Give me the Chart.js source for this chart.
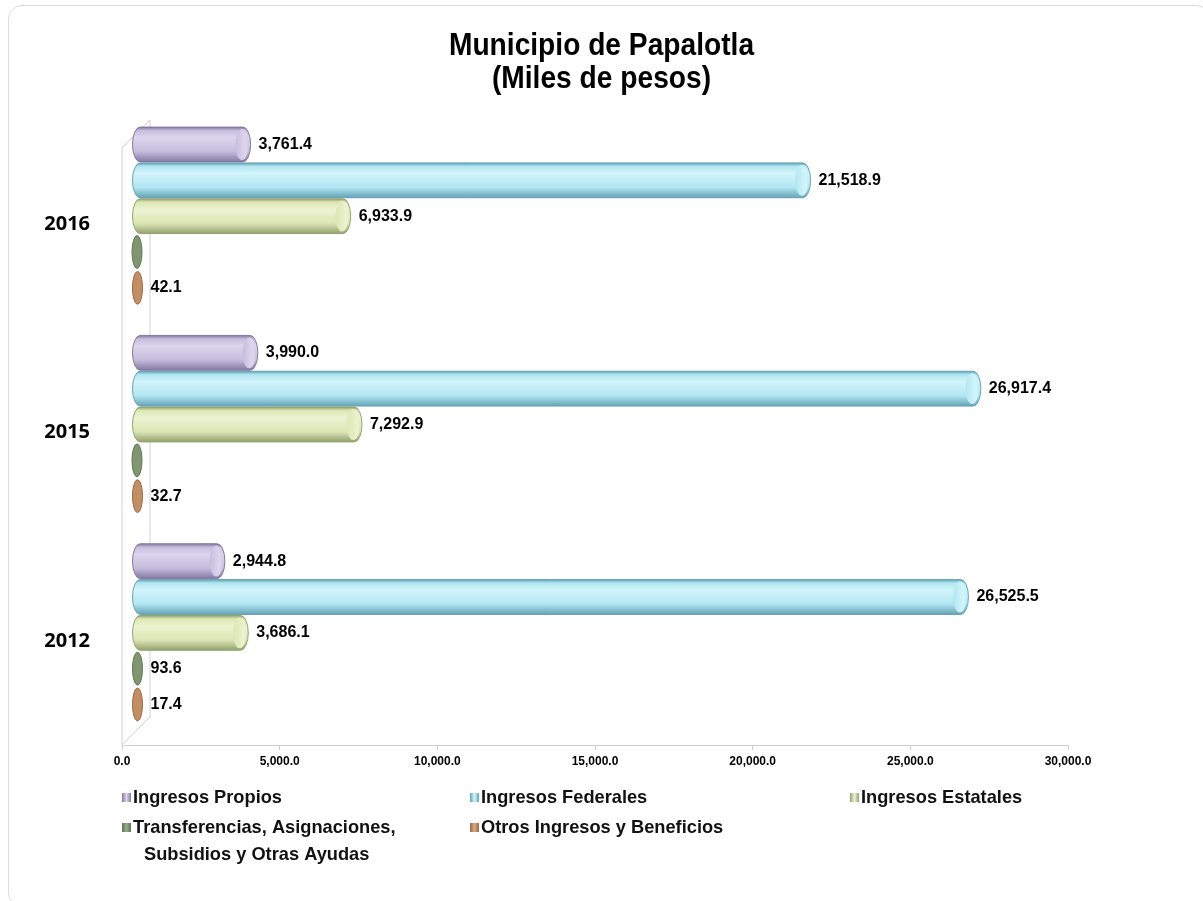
<!DOCTYPE html>
<html>
<head>
<meta charset="utf-8">
<script src="https://cdn.jsdelivr.net/npm/chart.js@4.4.0/dist/chart.umd.min.js"></script>
<style>
  html, body { margin: 0; padding: 0; background: #fff; }
  #wrap { position: relative; width: 1203px; height: 901px; }
  #frame { position: absolute; left: 8px; top: 5px; width: 1200px; height: 900px;
           border: 1px solid #dcdcdc; border-radius: 14px; pointer-events: none; }
</style>
</head>
<body>
<div id="wrap">
  <canvas id="chart" width="1203" height="901"></canvas>
  <div id="frame"></div>
</div>
<script>
// data
const years = ['2016', '2015', '2012'];
const ingresosPropios = [3761.4, 3990.0, 2944.8];
const ingresosFederales = [21518.9, 26917.4, 26525.5];
const ingresosEstatales = [6933.9, 7292.9, 3686.1];
const transferencias = [0, 0, 93.6];
const otrosIngresos = [42.1, 32.7, 17.4];
const xTicks = [0, 5000, 10000, 15000, 20000, 25000, 30000];

const titleLines = ['Municipio de Papalotla', '(Miles de pesos)'];
const seriesNames = [
    ['Ingresos Propios'],
    ['Ingresos Federales'],
    ['Ingresos Estatales'],
    ['Transferencias, Asignaciones,', 'Subsidios y Otras Ayudas'],
    ['Otros Ingresos y Beneficios']
];

// cylinder colours: edge (dark), body (mid), light (highlight), cap
const palette = [
    { dark: '#8478a0', mid: '#c6bcdc', light: '#ddd6ee', cap: '#d9d1ea' },
    { dark: '#65a3b6', mid: '#b2e6f2', light: '#d2f5fb', cap: '#caf1f9' },
    { dark: '#93a270', mid: '#dce7b4', light: '#edf3d2', cap: '#e6edc6' },
    { dark: '#5f7750', mid: '#7f9670', light: '#98ab8a', cap: '#8aa07b' },
    { dark: '#9c6a45', mid: '#c48e64', light: '#d8a882', cap: '#cf9b72' }
];

const fmt = v => v.toLocaleString('en-US', { minimumFractionDigits: 1, maximumFractionDigits: 1 });

// 3D depth offset of the bars (back plane up and right)
const SHIFT_X = 10;
const SHIFT_Y = -8;

// draws a cylinder whose outer edges are left..right
function cylinder(ctx, left, right, yc, h, c) {
    const top = yc - h / 2, bot = yc + h / 2;
    const rx = Math.min(8, h * 0.22);
    ctx.save();
    ctx.lineWidth = 1;
    if (right - left < 2 * rx) {
        ctx.beginPath();
        ctx.ellipse(left + 5, yc, 5, h / 2 - 1, 0, 0, Math.PI * 2);
        ctx.fillStyle = c.mid;
        ctx.fill();
        ctx.strokeStyle = c.dark;
        ctx.stroke();
        ctx.restore();
        return;
    }
    const x0 = left + rx, x1 = right - rx;
    const g = ctx.createLinearGradient(0, top, 0, bot);
    g.addColorStop(0, c.dark);
    g.addColorStop(0.1, c.mid);
    g.addColorStop(0.3, c.light);
    g.addColorStop(0.7, c.mid);
    g.addColorStop(1, c.dark);
    ctx.beginPath();
    ctx.ellipse(x0, yc, rx, h / 2, 0, Math.PI / 2, Math.PI * 1.5);
    ctx.lineTo(x1, top);
    ctx.ellipse(x1, yc, rx, h / 2, 0, -Math.PI / 2, Math.PI / 2);
    ctx.closePath();
    ctx.fillStyle = g;
    ctx.fill();
    ctx.strokeStyle = c.dark;
    ctx.stroke();
    // end cap, soft highlight
    const cg = ctx.createLinearGradient(x1 - rx, 0, x1 + rx, 0);
    cg.addColorStop(0, c.mid);
    cg.addColorStop(0.5, c.cap);
    cg.addColorStop(0.7, c.light);
    cg.addColorStop(1, c.mid);
    ctx.beginPath();
    ctx.ellipse(x1 - 1, yc, rx - 1, h / 2 - 2, 0, 0, Math.PI * 2);
    ctx.fillStyle = cg;
    ctx.fill();
    ctx.restore();
}

const cylinderPlugin = {
    id: 'cylinders',
    beforeDatasetsDraw(chart) {
        // 3D wall lines
        const { ctx, chartArea: a } = chart;
        const d = 28;
        ctx.save();
        ctx.strokeStyle = '#d2d2d2';
        ctx.lineWidth = 1;
        ctx.beginPath();
        ctx.moveTo(a.left, a.bottom);
        ctx.lineTo(a.left, a.top + d);
        ctx.lineTo(a.left + d, a.top);
        ctx.lineTo(a.left + d, a.bottom - d);
        ctx.lineTo(a.left, a.bottom);
        ctx.stroke();
        ctx.restore();
    },
    afterDatasetsDraw(chart) {
        const ctx = chart.ctx;
        chart.data.datasets.forEach((ds, i) => {
            const meta = chart.getDatasetMeta(i);
            meta.data.forEach((bar, j) => {
                const p = bar.getProps(['x', 'y', 'base', 'height'], true);
                const left = p.base + SHIFT_X, right = p.x + SHIFT_X, yc = p.y + SHIFT_Y;
                cylinder(ctx, left, right, yc, p.height - 1, palette[i]);
                const v = ds.data[j];
                if (v > 0) {
                    ctx.save();
                    ctx.font = 'bold 16px "Liberation Sans", Arial, sans-serif';
                    ctx.fillStyle = '#000';
                    ctx.textBaseline = 'middle';
                    ctx.textAlign = 'left';
                    ctx.fillText(fmt(v), Math.max(right, left + 10) + 8, yc);
                    ctx.restore();
                }
            });
        });
    },
    afterDraw(chart) {
        const ctx = chart.ctx;
        // title, centred on the page
        ctx.save();
        ctx.font = 'bold 32px "Liberation Sans", Arial, sans-serif';
        ctx.fillStyle = '#000';
        ctx.textAlign = 'center';
        ctx.textBaseline = 'middle';
        titleLines.forEach((t, k) => {
            ctx.save();
            ctx.translate(chart.width / 2, 46 + k * 33);
            ctx.scale(0.88, 1);
            ctx.fillText(t, 0, 0);
            ctx.restore();
        });
        ctx.restore();

        // legend, 3 columns x 2 rows
        const cols = [122, 470, 850];
        const rows = [798, 828];
        ctx.save();
        ctx.font = 'bold 19px "Liberation Sans", Arial, sans-serif';
        ctx.textBaseline = 'middle';
        seriesNames.forEach((lines, i) => {
            const x = cols[i % 3], y = rows[Math.floor(i / 3)];
            const c = palette[i];
            const g = ctx.createLinearGradient(x, 0, x + 9, 0);
            g.addColorStop(0, c.dark);
            g.addColorStop(0.5, c.light);
            g.addColorStop(1, c.dark);
            ctx.fillStyle = g;
            ctx.fillRect(x, y - 5, 9, 9);
            ctx.fillStyle = '#111';
            lines.forEach((t, k) => {
                ctx.save();
                ctx.translate(k === 0 ? x + 11 : x + 22, y + k * 27);
                ctx.scale(0.96, 1);
                ctx.fillText(t, 0, 0);
                ctx.restore();
            });
        });
        ctx.restore();
    }
};

const mkSet = (label, data) => ({
    label: label,
    data: data,
    backgroundColor: 'rgba(0,0,0,0)',
    borderWidth: 0
});

new Chart(document.getElementById('chart'), {
    type: 'bar',
    data: {
        labels: years,
        datasets: [
            mkSet(seriesNames[0].join(' '), ingresosPropios),
            mkSet(seriesNames[1].join(' '), ingresosFederales),
            mkSet(seriesNames[2].join(' '), ingresosEstatales),
            mkSet(seriesNames[3].join(' '), transferencias),
            mkSet(seriesNames[4].join(' '), otrosIngresos)
        ]
    },
    options: {
        indexAxis: 'y',
        responsive: false,
        animation: false,
        layout: { padding: { top: 120, right: 135, bottom: 126, left: 0 } },
        datasets: { bar: { barPercentage: 1, categoryPercentage: 0.86 } },
        plugins: {
            legend: { display: false },
            tooltip: { enabled: false },
            title: { display: false }
        },
        scales: {
            x: {
                min: 0,
                max: 30000,
                afterBuildTicks(scale) { scale.ticks = xTicks.map(v => ({ value: v })); },
                afterFit(scale) { scale.height = 30; },
                border: { color: '#cfcfcf' },
                grid: { drawOnChartArea: false, color: '#cfcfcf', tickLength: 5 },
                ticks: {
                    callback: v => fmt(v),
                    color: '#000',
                    font: { family: '"Liberation Sans", Arial, sans-serif', size: 12, weight: 'bold' },
                    maxRotation: 0,
                    padding: 4
                }
            },
            y: {
                afterFit(scale) { scale.width = 122; },
                border: { display: false },
                grid: { display: false },
                ticks: {
                    color: '#000',
                    font: { family: '"Open Sans", sans-serif', size: 20, weight: 'bold' },
                    padding: 24
                }
            }
        }
    },
    plugins: [cylinderPlugin]
});
</script>
</body>
</html>
